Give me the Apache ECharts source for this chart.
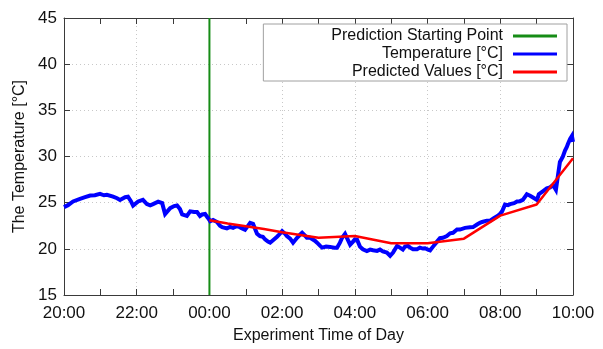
<!DOCTYPE html>
<html>
<head>
<meta charset="utf-8">
<script src="https://cdn.jsdelivr.net/npm/echarts@6/dist/echarts.min.js"></script>
<style>
html,body{margin:0;padding:0;background:#fff;}
#chart{width:603px;height:349px;}
</style>
</head>
<body>
<div id="chart"></div>
<script>
// Hours elapsed since 20:00 (0 = 20:00, 4 = 00:00, 14 = 10:00)
const tempHours = [0.00,0.11,0.25,0.44,0.58,0.72,0.85,0.99,1.10,1.18,1.35,1.46,1.54,1.68,1.76,1.84,1.90,2.04,2.17,2.28,2.37,2.45,2.59,2.70,2.78,2.92,3.03,3.11,3.19,3.25,3.38,3.47,3.58,3.66,3.74,3.80,3.88,3.96,4.02,4.10,4.21,4.29,4.35,4.48,4.57,4.65,4.73,4.79,4.87,4.98,5.03,5.12,5.20,5.25,5.31,5.39,5.47,5.53,5.61,5.67,5.72,5.86,5.94,6.00,6.08,6.13,6.22,6.30,6.41,6.49,6.55,6.63,6.68,6.77,6.82,6.90,6.96,7.04,7.10,7.21,7.32,7.43,7.51,7.59,7.65,7.73,7.78,7.87,7.95,8.00,8.06,8.14,8.22,8.33,8.42,8.50,8.61,8.69,8.77,8.88,8.97,9.05,9.16,9.24,9.32,9.38,9.46,9.52,9.60,9.71,9.79,9.87,9.93,10.01,10.07,10.15,10.26,10.34,10.42,10.53,10.62,10.70,10.81,10.89,11.03,11.08,11.17,11.25,11.36,11.44,11.50,11.63,11.72,11.83,11.91,11.99,12.05,12.13,12.21,12.27,12.38,12.46,12.54,12.62,12.73,12.82,12.90,13.01,13.06,13.17,13.28,13.37,13.45,13.53,13.59,13.64,13.72,13.78,13.83,13.86,13.92,13.97,14.00];
const tempValues = [24.52,24.73,25.13,25.41,25.59,25.77,25.80,25.96,25.80,25.86,25.66,25.48,25.30,25.59,25.64,25.16,24.68,25.13,25.30,24.84,24.70,24.84,25.11,24.95,23.77,24.41,24.63,24.70,24.30,23.72,23.56,24.06,23.98,23.98,23.56,23.72,23.77,23.34,22.99,23.13,22.91,22.49,22.35,22.22,22.38,22.27,22.43,22.45,22.27,22.06,22.27,22.81,22.70,22.49,21.63,21.38,21.31,21.02,20.78,20.67,20.85,21.31,21.63,21.92,21.63,21.38,21.10,20.67,21.20,21.52,21.74,21.42,21.20,21.20,21.02,20.88,20.67,20.35,20.13,20.24,20.21,20.13,20.13,20.67,21.20,21.63,21.63,20.45,20.78,21.02,20.99,20.24,19.95,19.76,19.92,19.84,19.78,19.92,19.71,19.60,19.25,19.60,20.32,20.13,19.92,20.24,20.32,20.13,19.95,19.95,20.13,20.03,20.06,19.92,19.84,20.24,20.78,21.15,21.20,21.38,21.68,21.74,22.09,22.09,22.27,22.20,22.33,22.35,22.63,22.81,22.91,23.05,23.05,23.34,23.52,23.77,24.06,24.79,24.73,24.84,24.95,25.13,25.16,25.30,25.91,25.75,25.56,25.30,25.91,26.23,26.55,26.66,26.92,26.39,28.05,29.41,29.97,30.65,31.04,31.36,31.90,32.22,31.58];

const predHours = [4.0,4.5,5.0,5.5,6.0,6.5,7.0,8.0,9.0,10.0,11.0,12.0,13.0,14.0];
const predValues = [23.1,22.75,22.45,22.15,21.8,21.5,21.2,21.4,20.6,20.6,21.1,23.6,24.8,29.8];

const startHour = 4;
const yRange = [15, 45];

const xTickHours = [0,2,4,6,8,10,12,14];
const xTickLabels = ['20:00','22:00','00:00','02:00','04:00','06:00','08:00','10:00'];

const seriesNames = ['Prediction Starting Point','Temperature [°C]','Predicted Values [°C]'];

const zip = (xs, ys) => xs.map((x, i) => [x, ys[i]]);

const chart = echarts.init(document.getElementById('chart'), null, {renderer: 'canvas'});
const font = 'Liberation Sans, Arial, sans-serif';
const axisColor = '#3a3a3a';
const gridStyle = {color: '#c8c8c8', type: [1, 3], width: 1};

const commonX = {
  type: 'value', min: 0, max: 14, interval: 2,
  axisLine: {show: true, onZero: false, lineStyle: {color: axisColor, width: 1}},
  axisTick: {show: true, inside: true, length: 6, lineStyle: {color: axisColor}},
  minorTick: {show: true, splitNumber: 2, length: 6, lineStyle: {color: axisColor}}
};
const commonY = {
  type: 'value', min: yRange[0], max: yRange[1], interval: 5,
  axisLine: {show: true, onZero: false, lineStyle: {color: axisColor, width: 1}},
  axisTick: {show: true, inside: true, length: 6, lineStyle: {color: axisColor}}
};

chart.setOption({
  animation: false,
  backgroundColor: '#fff',
  textStyle: {fontFamily: font},
  grid: {left: 64, right: 30, top: 18, bottom: 51, containLabel: false},
  legend: {
    data: seriesNames,
    orient: 'vertical',
    align: 'right',
    right: 36,
    top: 24,
    icon: 'rect',
    itemWidth: 44,
    itemHeight: 3,
    itemGap: 0,
    padding: [3, 10, 0, 68],
    backgroundColor: '#fff',
    borderColor: '#a0a0a0',
    borderWidth: 1,
    textStyle: {fontSize: 16, color: '#111', fontFamily: font, lineHeight: 18, padding: [0, 5, 0, 0]}
  },
  xAxis: [
    Object.assign({}, commonX, {
      position: 'bottom',
      name: 'Experiment Time of Day',
      nameLocation: 'middle',
      nameGap: 33,
      nameTextStyle: {fontSize: 16, color: '#111', fontFamily: font},
      axisLabel: {
        fontSize: 17, color: '#111', margin: 10, fontFamily: font,
        formatter: v => xTickLabels[xTickHours.indexOf(v)]
      },
      splitLine: {show: true, lineStyle: gridStyle}
    }),
    Object.assign({}, commonX, {
      position: 'top',
      axisLabel: {show: false},
      splitLine: {show: false}
    })
  ],
  yAxis: [
    Object.assign({}, commonY, {
      position: 'left',
      name: 'The Temperature [°C]',
      nameLocation: 'middle',
      nameGap: 35,
      nameTextStyle: {fontSize: 16, color: '#111', fontFamily: font},
      axisLabel: {fontSize: 17, color: '#111', margin: 7, fontFamily: font},
      splitLine: {show: true, lineStyle: gridStyle}
    }),
    Object.assign({}, commonY, {
      position: 'right',
      axisLabel: {show: false},
      splitLine: {show: false}
    })
  ],
  series: [
    {
      name: seriesNames[0], type: 'line', xAxisIndex: 0, yAxisIndex: 0,
      data: zip([startHour, startHour], yRange),
      symbol: 'none', color: '#168c16',
      lineStyle: {width: 2, color: '#168c16'}, z: 2
    },
    {
      name: seriesNames[1], type: 'line', xAxisIndex: 0, yAxisIndex: 0,
      data: zip(tempHours, tempValues),
      symbol: 'none', color: '#0000ff',
      lineStyle: {width: 4, color: '#0000ff', join: 'miter'}, z: 3
    },
    {
      name: seriesNames[2], type: 'line', xAxisIndex: 0, yAxisIndex: 0,
      data: zip(predHours, predValues),
      symbol: 'none', color: '#ff0000',
      lineStyle: {width: 2.5, color: '#ff0000'}, z: 4
    }
  ]
});
</script>
</body>
</html>
